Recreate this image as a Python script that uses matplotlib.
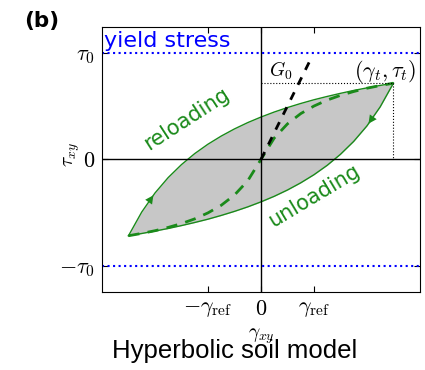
import matplotlib
matplotlib.use("Agg")
import matplotlib.pyplot as plt

plt.rcParams["mathtext.fontset"] = "cm"

# hyperbolic soil model, normalised: gamma_ref = 1, tau_0 = 1 (G0 = 1)
gamma_ref = 1.0
tau_0 = 1.0
gamma_t, tau_t = 2.5, 0.714

gamma = [-2.5, -2.25, -2.0, -1.75, -1.5, -1.25, -1.0, -0.75, -0.5, -0.25, 0.0,
         0.25, 0.5, 0.75, 1.0, 1.25, 1.5, 1.75, 2.0, 2.25, 2.5]
backbone = [-0.714, -0.692, -0.667, -0.636, -0.600, -0.556, -0.500, -0.429, -0.333, -0.200, 0.0,
            0.200, 0.333, 0.429, 0.500, 0.556, 0.600, 0.636, 0.667, 0.692, 0.714]
reloading = [-0.714, -0.492, -0.314, -0.169, -0.048, 0.055, 0.143, 0.219, 0.286, 0.345, 0.397,
             0.444, 0.486, 0.524, 0.559, 0.590, 0.619, 0.646, 0.670, 0.693, 0.714]
unloading = [-0.714, -0.693, -0.670, -0.646, -0.619, -0.590, -0.559, -0.524, -0.486, -0.444, -0.397,
             -0.345, -0.286, -0.219, -0.143, -0.055, 0.048, 0.169, 0.314, 0.492, 0.714]
g0_line_x = [0.0, 0.95]
g0_line_y = [0.0, 0.95]

fig = plt.figure(figsize=(4.25, 3.7), dpi=100)
ax = fig.add_axes([0.24, 0.211, 0.748, 0.716])

green = "#1a8a1a"

ax.fill_between(gamma, unloading, reloading, color="0.78", lw=0)
ax.plot(gamma, reloading, color=green, lw=1)
ax.plot(gamma, unloading, color=green, lw=1)
ax.plot(gamma, backbone, color=green, lw=2, ls="--", dashes=(4, 3))
ax.plot(g0_line_x, g0_line_y, color="black", lw=2, ls="--", dashes=(3, 3))

# direction arrows on the loop
ax.annotate("", xy=(gamma[2], reloading[2]), xytext=(gamma[1], reloading[1]),
            arrowprops=dict(arrowstyle="-|>", color=green, lw=0, mutation_scale=15))
ax.annotate("", xy=(gamma[18], unloading[18]), xytext=(gamma[19], unloading[19]),
            arrowprops=dict(arrowstyle="-|>", color=green, lw=0, mutation_scale=15))

ax.axhline(0, color="black", lw=1)
ax.axvline(0, color="black", lw=1)
ax.axhline(tau_0, color="blue", lw=1.5, ls=":")
ax.axhline(-tau_0, color="blue", lw=1.5, ls=":")
ax.plot([0, gamma_t], [tau_t, tau_t], color="black", lw=0.8, ls=":")
ax.plot([gamma_t, gamma_t], [tau_t, 0], color="black", lw=0.8, ls=":")

ax.text(-2.97, 1.02, "yield stress", color="blue", fontsize=16, va="bottom", ha="left")
ax.text(-1.40, 0.38, "reloading", color=green, fontsize=15, rotation=33, ha="center", va="center")
ax.text(1.0, -0.34, "unloading", color=green, fontsize=15, rotation=31, ha="center", va="center")
ax.text(0.38, 0.83, "$G_0$", fontsize=14, ha="center", va="center")
ax.text(2.35, 0.82, r"$(\gamma_t,\tau_t)$", fontsize=16, ha="center", va="center")

ax.set_xlim(-3, 3)
ax.set_ylim(-1.24, 1.24)
ax.set_xticks([-gamma_ref, 0, gamma_ref])
ax.set_xticklabels([r"$-\gamma_{\rm ref}$", "$0$", r"$\gamma_{\rm ref}$"])
ax.set_yticks([-tau_0, 0, tau_0])
ax.set_yticklabels([r"$-\tau_0$", "$0$", r"$\tau_0$"])
ax.tick_params(direction="in", top=True, right=True, length=4, labelsize=16, pad=5)
ax.set_xlabel(r"$\gamma_{xy}$", fontsize=14)
ax.set_ylabel(r"$\tau_{xy}$", fontsize=14)
ax.xaxis.set_label_coords(0.5, -0.13)
ax.yaxis.set_label_coords(-0.063, 0.517)

fig.text(0.099, 0.943, "(b)", fontsize=15.5, fontweight="bold",
         ha="center", va="center")
fig.text(0.553, 0.052, "Hyperbolic soil model", fontsize=18.5, family="Liberation Sans",
         ha="center", va="center")

fig.savefig("out.png", dpi=100)
